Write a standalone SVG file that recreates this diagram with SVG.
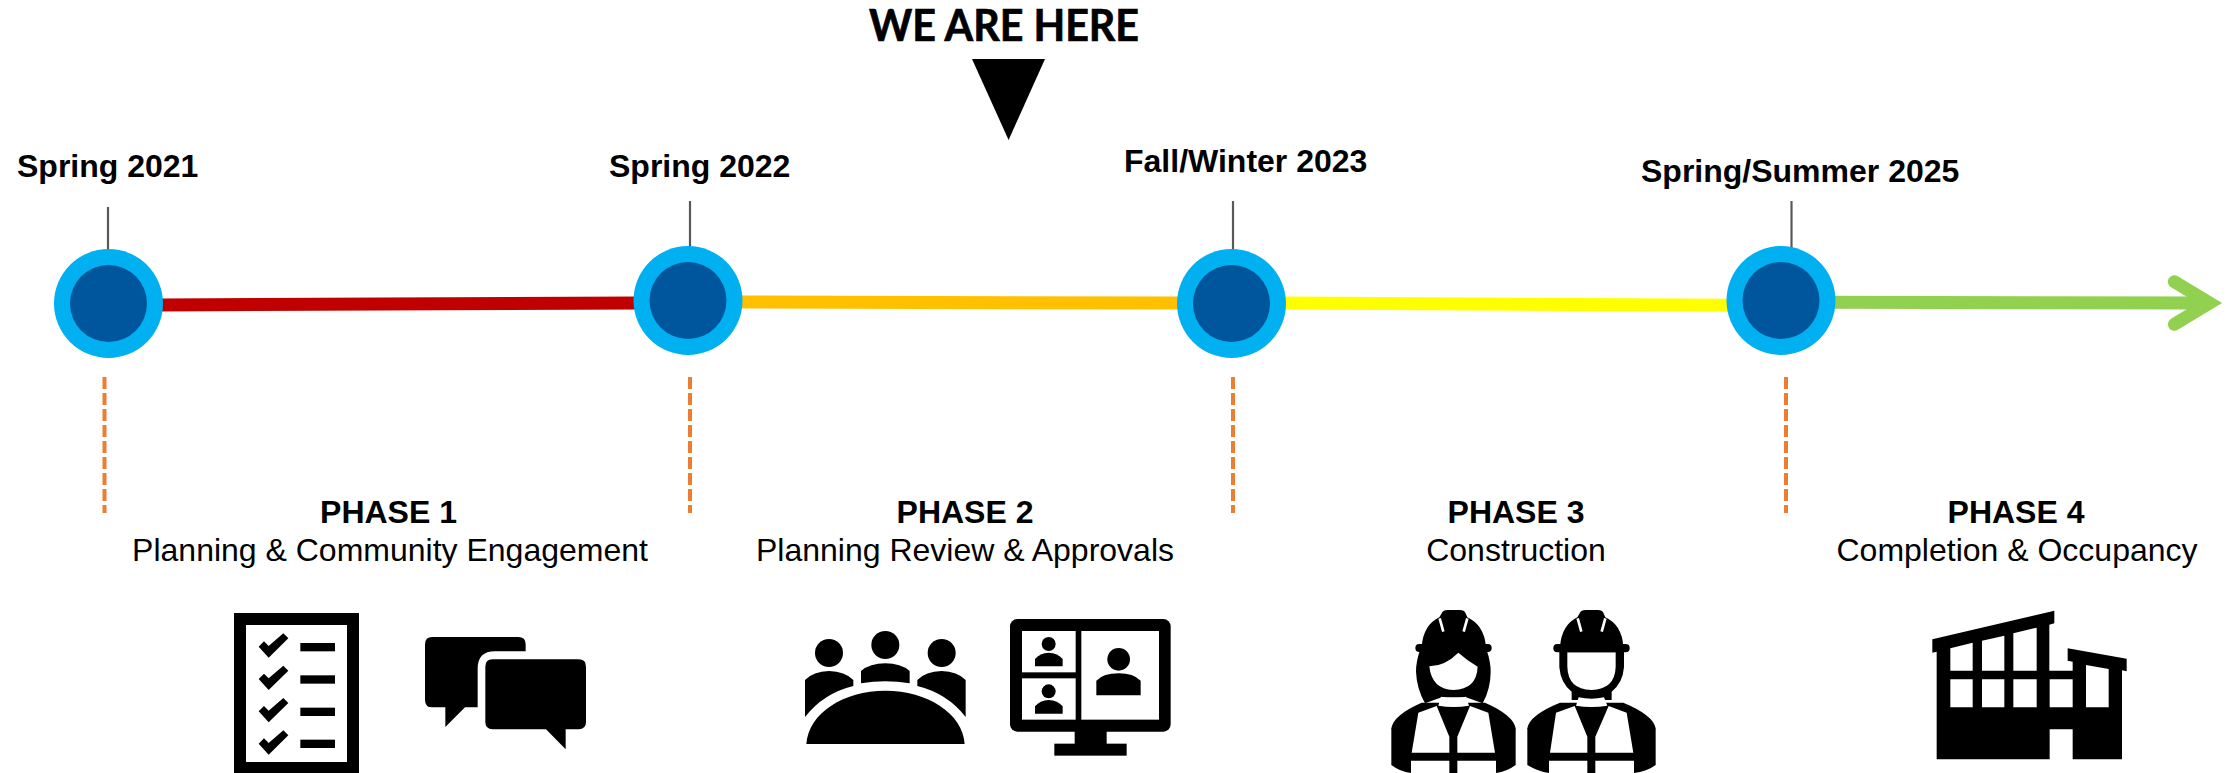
<svg xmlns="http://www.w3.org/2000/svg" xmlns:xlink="http://www.w3.org/1999/xlink" width="2234" height="773" viewBox="0 0 2234 773">
<style>
text{font-family:"Liberation Sans",Arial,sans-serif;font-size:32px;fill:#000}
.b{font-weight:700}
.c{text-anchor:middle}
.here{font-family:Lato,"Open Sans",sans-serif;font-weight:700;font-size:43px;stroke:#000;stroke-width:.7}
.outer{fill:#00B0F0}
.inner{fill:#00569D}
.tick{stroke:#595959;stroke-width:2.2;fill:none}
.dash{stroke:#ED7D31;stroke-width:4;stroke-dasharray:12 4;fill:none}
.seg{stroke-width:13;fill:none}
.k{fill:#000}
.w{fill:#fff}
.slit{stroke:#fff;stroke-width:8;fill:none}
</style>
<defs>
<path id="check" d="M176,170 L192,154 L206,168 L250,130 L265,145 L206,203 Z"/>
<rect id="bar" x="301" y="159" width="104" height="25"/>
<g id="smallperson"><circle cx="806" cy="162" r="21"/><path d="M765,229 V207 Q780,189 806,188 Q833,189 848,207 V229 Z"/></g>
</defs>
<rect width="2234" height="773" fill="#fff"/>
<g id="connectors">
<line class="seg" x1="160" y1="305" x2="640" y2="303" stroke="#C00000"/>
<line class="seg" x1="738" y1="302" x2="1180" y2="303" stroke="#FFC000"/>
<line class="seg" x1="1282" y1="303" x2="1730" y2="305.3" stroke="#FFFF00"/>
<path class="seg" d="M1830,302.3 L2209,303" stroke="#92D050"/>
<path class="seg" d="M2174.4,281.7 L2209.6,303 L2174.4,324.3" stroke="#92D050" stroke-linecap="round" stroke-linejoin="miter" stroke-miterlimit="4"/>
<line class="tick" x1="108" y1="207" x2="108" y2="250"/>
<line class="tick" x1="690" y1="201" x2="690" y2="247"/>
<line class="tick" x1="1233" y1="201" x2="1233" y2="250"/>
<line class="tick" x1="1791.5" y1="201" x2="1791.5" y2="248"/>
<line class="dash" x1="104.5" y1="377" x2="104.5" y2="513"/>
<line class="dash" x1="690" y1="377" x2="690" y2="513"/>
<line class="dash" x1="1233" y1="377" x2="1233" y2="513"/>
<line class="dash" x1="1786" y1="377" x2="1786" y2="513"/>
</g>
<g id="node-spring-2021"><circle class="outer" cx="108.5" cy="303.5" r="54.5"/><circle class="inner" cx="108.5" cy="303.5" r="38.5"/><text class="b" x="17" y="177">Spring 2021</text></g>
<g id="node-spring-2022"><circle class="outer" cx="688" cy="300.5" r="54.5"/><circle class="inner" cx="688" cy="300.5" r="38.5"/><text class="b" x="609" y="177">Spring 2022</text></g>
<g id="node-fall-winter-2023"><circle class="outer" cx="1231.5" cy="303.5" r="54.5"/><circle class="inner" cx="1231.5" cy="303.5" r="38.5"/><text class="b" x="1124" y="172">Fall/Winter 2023</text></g>
<g id="node-spring-summer-2025"><circle class="outer" cx="1781" cy="300.5" r="54.5"/><circle class="inner" cx="1781" cy="300.5" r="38.5"/><text class="b" x="1641" y="182">Spring/Summer 2025</text></g>
<g id="we-are-here">
<text class="here" x="869" y="41" textLength="270" lengthAdjust="spacingAndGlyphs">WE ARE HERE</text>
<polygon class="k" points="972,59 1045,59 1008.6,140"/>
</g>
<g id="phase-1"><text class="b c" x="388.5" y="523">PHASE 1</text><text class="c" x="390" y="561">Planning &amp; Community Engagement</text></g>
<g id="phase-2"><text class="b c" x="965" y="523">PHASE 2</text><text class="c" x="965" y="561">Planning Review &amp; Approvals</text></g>
<g id="phase-3"><text class="b c" x="1516" y="523">PHASE 3</text><text class="c" x="1516" y="561">Construction</text></g>
<g id="phase-4"><text class="b c" x="2016" y="523">PHASE 4</text><text class="c" x="2017" y="561">Completion &amp; Occupancy</text></g>
<g id="icon-checklist" transform="translate(200 590) scale(.33333)">
<rect class="k" x="102" y="69" width="375" height="480"/>
<rect class="w" x="138" y="105" width="303" height="411"/>
<use xlink:href="#check" href="#check"/><use xlink:href="#check" href="#check" y="97"/><use xlink:href="#check" href="#check" y="194"/><use xlink:href="#check" href="#check" y="291"/>
<use xlink:href="#bar" href="#bar"/><use xlink:href="#bar" href="#bar" y="97"/><use xlink:href="#bar" href="#bar" y="194"/><use xlink:href="#bar" href="#bar" y="290"/>
</g>
<g id="icon-chat" transform="translate(200 590) scale(.33333)">
<path class="k" d="M697,141 H955 Q977,141 977,163 V184 H885 Q833,184 833,236 V352 H795 L736,411 V352 H697 Q675,352 675,330 V163 Q675,141 697,141 Z"/>
<path class="k" d="M878,208 H1136 Q1158,208 1158,230 V396 Q1158,418 1136,418 H1097 V478 L1038,418 H878 Q856,418 856,396 V230 Q856,208 878,208 Z"/>
</g>
<g id="icon-meeting" transform="translate(780 590) scale(.33333)">
<circle cx="147" cy="189" r="42"/><circle cx="316" cy="165" r="42"/><circle cx="485" cy="189" r="42"/>
<path d="M79,462 C85,370 190,302 316,302 C442,302 548,370 554,462 Z"/>
<path d="M243,280 V243 Q270,220 316,220 Q362,220 389,243 V280 Q316,268 243,280 Z"/>
<path d="M75,381 V270 Q100,244 147,243 Q195,244 220,270 V288 Q130,310 75,381 Z"/>
<path d="M557,381 V270 Q532,244 485,243 Q437,244 412,270 V288 Q502,310 557,381 Z"/>
</g>
<g id="icon-video-call" transform="translate(780 590) scale(.33333)">
<rect class="k" x="690" y="87" width="482" height="338" rx="22"/>
<rect class="k" x="884" y="420" width="96" height="45"/>
<rect class="k" x="823" y="461" width="217" height="36"/>
<rect class="w" x="726" y="123" width="161" height="124"/>
<rect class="w" x="726" y="265" width="161" height="124"/>
<rect class="w" x="904" y="123" width="233" height="266"/>
<use xlink:href="#smallperson" href="#smallperson"/><use xlink:href="#smallperson" href="#smallperson" y="142"/>
<circle cx="1016" cy="208" r="34"/><path d="M949,316 V272 Q970,250 1016,250 Q1060,250 1082,272 V316 Z"/>
</g>
<g id="icon-worker-female" transform="translate(1370 590) scale(.33333)">
<path class="k" d="M64,415 Q70,375 155,338 L345,338 Q430,375 437,415 V525 Q410,545 378,549 H123 Q90,545 64,525 Z"/>
<path class="w" d="M145,368 L200,348 L238,440 V488 H125 Z M123,512 H238 V549 H123 Z M355,368 L300,348 L262,440 V488 H375 Z M378,512 H262 V549 H378 Z"/>
<path class="k" d="M150,180 Q138,215 138,245 Q140,295 165,340 L215,322 H288 L338,340 Q362,295 362,245 Q362,215 350,180 Z"/>
<path class="w" d="M205,347 Q250,355 297,347 L288,320 Q250,328 213,320 Z"/>
<path class="k" d="M155,170 Q160,105 208,82 L216,68 Q220,60 232,60 H270 Q282,60 286,68 L292,82 Q342,105 348,170 Z"/>
<rect class="k" x="136" y="162" width="229" height="24" rx="12"/>
<path class="slit" d="M209,85 L220,125 M292,85 L281,125"/>
<path class="w" d="M178,229 Q225,228 265,188 Q290,210 323,230 Q320,298 250,300 Q185,298 178,229 Z"/>
</g>
<g id="icon-worker-male" transform="translate(1370 590) scale(.33333)">
<path class="k" d="M472,415 Q478,375 570,338 L760,338 Q850,375 857,415 V525 Q830,545 792,549 H537 Q505,545 472,525 Z"/>
<path class="w" d="M558,368 L614,348 L652,440 V488 H540 Z M537,512 H652 V549 H537 Z M770,368 L716,348 L676,440 V488 H790 Z M792,512 H676 V549 H792 Z"/>
<path class="k" d="M568,180 V232 Q572,280 605,305 V330 H725 V305 Q758,280 762,232 V180 Z"/>
<path class="w" d="M618,347 Q664,355 712,347 L702,322 Q664,330 626,322 Z"/>
<path class="w" d="M592,187 H737 V230 Q735,298 664,300 Q594,298 592,230 Z"/>
<path class="k" d="M570,170 Q575,105 622,82 L630,68 Q634,60 646,60 H684 Q696,60 700,68 L706,82 Q756,105 760,170 Z"/>
<rect class="k" x="550" y="162" width="229" height="25" rx="12"/>
<path class="slit" d="M623,85 L634,125 M706,85 L695,125"/>
</g>
<g id="icon-building" transform="translate(1910 590) scale(.33333)">
<path class="k" d="M67,148 L433,62 V100 L418,104 V242 H488 V215 L473,212 V175 L650,206 V244 L636,241 V508 H488 V418 H419 V508 H80 V185 L67,188 Z"/>
<path class="w" d="M121,175 L188,158 V242 H121 Z M216,152 L283,137 V242 H216 Z M310,130 L380,113 V242 H310 Z M121,268 H188 V352 H121 Z M216,268 H283 V352 H216 Z M310,268 H380 V352 H310 Z M419,268 H488 V352 H419 Z M528,225 L596,237 V352 H528 Z"/>
</g>
</svg>
